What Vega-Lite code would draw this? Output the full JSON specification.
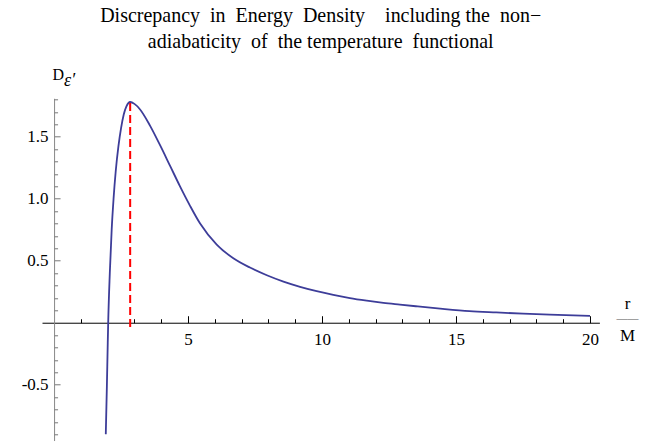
{
  "$schema": "https://vega.github.io/schema/vega-lite/v6.json",
  "autosize": {"type": "none"},
  "width": 557.4,
  "height": 342.24,
  "padding": {"left": 42, "top": 98.3, "right": 56.6, "bottom": 1.5},
  "title": {
    "text": ["Discrepancy\u00a0 in\u00a0 Energy\u00a0 Density\u00a0\u00a0\u00a0 including\u00a0the\u00a0 non−", "adiabaticity\u00a0 of\u00a0 the temperature\u00a0 functional"],
    "font": "Liberation Serif",
    "fontSize": 20,
    "fontWeight": "normal",
    "color": "#000000",
    "lineHeight": 26,
    "anchor": "middle",
    "offset": 15
  },
  "config": {
    "view": {"stroke": null},
    "axis": {"grid": false, "labelFont": "Liberation Serif", "titleFont": "Liberation Serif", "labelColor": "#000000", "titleColor": "#000000", "titleFontWeight": "normal"}
  },
  "resolve": {"axis": {"x": "independent", "y": "independent"}},
  "data": {
    "values": [
      {"r": 1.93, "D": -0.90},
      {"r": 1.97, "D": -0.52},
      {"r": 2.00, "D": -0.20},
      {"r": 2.02, "D": 0.00},
      {"r": 2.08, "D": 0.40},
      {"r": 2.15, "D": 0.75},
      {"r": 2.22, "D": 1.00},
      {"r": 2.30, "D": 1.22},
      {"r": 2.40, "D": 1.42},
      {"r": 2.50, "D": 1.57},
      {"r": 2.60, "D": 1.68},
      {"r": 2.70, "D": 1.745},
      {"r": 2.84, "D": 1.78},
      {"r": 3.00, "D": 1.765},
      {"r": 3.21, "D": 1.72},
      {"r": 3.58, "D": 1.59},
      {"r": 3.96, "D": 1.43},
      {"r": 4.33, "D": 1.265},
      {"r": 4.70, "D": 1.10},
      {"r": 5.07, "D": 0.945},
      {"r": 5.45, "D": 0.80},
      {"r": 6.07, "D": 0.63},
      {"r": 6.69, "D": 0.52},
      {"r": 7.31, "D": 0.445},
      {"r": 7.94, "D": 0.383},
      {"r": 8.56, "D": 0.332},
      {"r": 9.18, "D": 0.29},
      {"r": 9.80, "D": 0.255},
      {"r": 10.42, "D": 0.225},
      {"r": 11.04, "D": 0.199},
      {"r": 11.67, "D": 0.178},
      {"r": 12.29, "D": 0.160},
      {"r": 12.91, "D": 0.146},
      {"r": 13.50, "D": 0.133},
      {"r": 14.50, "D": 0.112},
      {"r": 15.50, "D": 0.094},
      {"r": 16.50, "D": 0.083},
      {"r": 17.50, "D": 0.073},
      {"r": 18.50, "D": 0.065},
      {"r": 20.00, "D": 0.055}
    ]
  },
  "layer": [
    {
      "mark": {"type": "line", "color": "#3d3d99", "strokeWidth": 1.8, "interpolate": "monotone"},
      "encoding": {
        "x": {
          "field": "r", "type": "quantitative",
          "scale": {"domain": [-0.45, 20.35], "nice": false, "zero": false},
          "axis": {
            "orient": "bottom",
            "offset": -117.8,
            "values": [5, 10, 15, 20],
            "labelOverlap": false,
            "tickSize": -7,
            "tickColor": "#000000",
            "domainColor": "#000000",
            "labelFont": "Liberation Serif",
            "labelFontSize": 17,
            "labelPadding": 16,
            "labelBaseline": "top",
            "labelFlush": false,
            "title": ["r", "M"],
            "titleFont": "Liberation Serif",
            "titleFontSize": 17,
            "titleLineHeight": 32,
            "titleX": 585,
            "titleY": -14.7,
            "titleAlign": "center",
            "titleBaseline": "alphabetic",
            "titleAngle": 0
          }
        },
        "y": {
          "field": "D", "type": "quantitative",
          "scale": {"domain": [-0.95, 1.81], "nice": false, "zero": false},
          "axis": {
            "orient": "left",
            "offset": -12.06,
            "values": [-0.5, 0.5, 1.0, 1.5],
            "labelExpr": "(datum.value < 0 ? '-' : '') + format(abs(datum.value), '.1f')",
            "labelOverlap": false,
            "tickSize": -6,
            "tickColor": "#777777",
            "domainColor": "#888888",
            "labelFont": "Liberation Serif",
            "labelFontSize": 17,
            "labelPadding": 12,
            "labelFlush": false,
            "title": "D",
            "titleFont": "Liberation Serif",
            "titleFontSize": 16,
            "titleAngle": 0,
            "titleAlign": "left",
            "titleBaseline": "alphabetic",
            "titleX": -2,
            "titleY": -18.3
          }
        }
      }
    },
    {
      "data": {"values": [{"r": 2.84, "y1": -0.035, "y2": 1.78}]},
      "mark": {"type": "rule", "color": "#ff0000", "strokeWidth": 2, "strokeDash": [8, 4]},
      "encoding": {
        "x": {
          "field": "r", "type": "quantitative",
          "axis": {
            "orient": "bottom",
            "offset": -117.8,
            "values": [1,2,3,4,6,7,8,9,11,12,13,14,16,17,18,19],
            "labels": false,
            "domain": false,
            "tickSize": -4,
            "tickColor": "#000000",
            "title": "——",
            "titleFont": "Liberation Serif",
            "titleFontSize": 11,
            "titleColor": "#555555",
            "titleX": 585,
            "titleY": -1,
            "titleAlign": "center",
            "titleBaseline": "alphabetic",
            "titleAngle": 0
          }
        },
        "y": {
          "field": "y1", "type": "quantitative",
          "axis": {
            "orient": "left",
            "offset": -12.06,
            "values": [-0.9,-0.8,-0.7,-0.6,-0.4,-0.3,-0.2,-0.1,0.1,0.2,0.3,0.4,0.6,0.7,0.8,0.9,1.1,1.2,1.3,1.4,1.6,1.7,1.8],
            "labels": false,
            "domain": false,
            "tickSize": -3.5,
            "tickColor": "#777777",
            "title": "ε′",
            "titleFont": "Liberation Serif",
            "titleFontSize": 18,
            "titleFontStyle": "italic",
            "titleAngle": 0,
            "titleAlign": "left",
            "titleBaseline": "alphabetic",
            "titleX": 9.5,
            "titleY": -12.3
          }
        },
        "y2": {"field": "y2"}
      }
    }
  ]
}
